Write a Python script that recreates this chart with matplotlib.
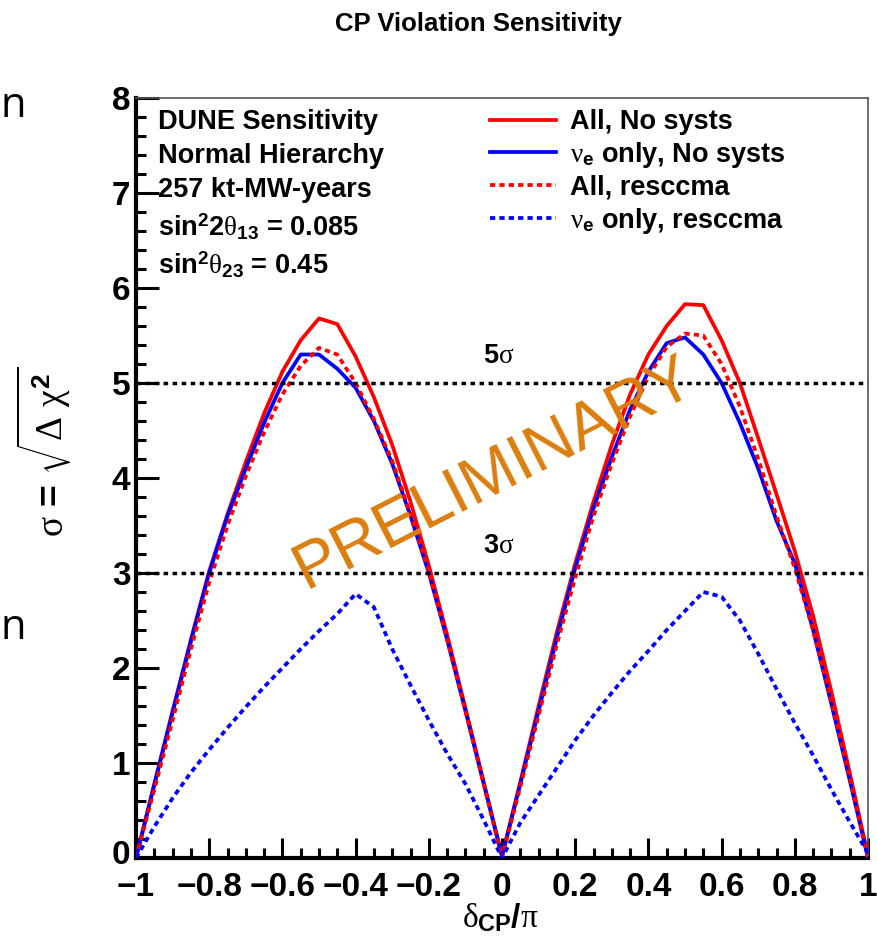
import matplotlib
matplotlib.use("Agg")
import matplotlib.pyplot as plt
from matplotlib.lines import Line2D
from matplotlib.ticker import MultipleLocator
from matplotlib.transforms import ScaledTranslation

# ---------------- data ----------------
delta_cp = [-1.00, -0.95, -0.90, -0.85, -0.80, -0.75, -0.70, -0.65, -0.60, -0.55,
            -0.50, -0.45, -0.40, -0.35, -0.30, -0.25, -0.20, -0.15, -0.10, -0.05,
            0.00, 0.05, 0.10, 0.15, 0.20, 0.25, 0.30, 0.35, 0.40, 0.45,
            0.50, 0.55, 0.60, 0.65, 0.70, 0.75, 0.80, 0.85, 0.90, 0.95, 1.00]

all_nosyst = [0.00, 0.78, 1.55, 2.30, 3.02, 3.62, 4.17, 4.68, 5.12, 5.45,
              5.68, 5.62, 5.28, 4.85, 4.35, 3.75, 3.08, 2.35, 1.58, 0.80,
              0.02, 0.80, 1.60, 2.38, 3.10, 3.75, 4.35, 4.88, 5.30, 5.60,
              5.83, 5.82, 5.45, 5.00, 4.42, 3.83, 3.23, 2.55, 1.75, 0.90, 0.02]

nue_nosyst = [0.00, 0.77, 1.53, 2.28, 3.00, 3.60, 4.10, 4.58, 5.00, 5.30,
              5.30, 5.15, 4.95, 4.60, 4.15, 3.60, 3.00, 2.30, 1.55, 0.78,
              0.02, 0.78, 1.55, 2.32, 3.05, 3.68, 4.22, 4.72, 5.12, 5.42,
              5.48, 5.30, 5.00, 4.58, 4.10, 3.55, 3.10, 2.40, 1.62, 0.82, 0.00]

all_resccma = [0.00, 0.72, 1.45, 2.20, 2.90, 3.50, 4.02, 4.48, 4.88, 5.18,
               5.37, 5.30, 5.00, 4.62, 4.18, 3.62, 3.02, 2.30, 1.55, 0.78,
               0.00, 0.75, 1.50, 2.25, 2.95, 3.60, 4.15, 4.65, 5.07, 5.38,
               5.52, 5.50, 5.20, 4.75, 4.20, 3.60, 3.05, 2.40, 1.65, 0.85, 0.00]

nue_resccma = [0.00, 0.33, 0.63, 0.90, 1.14, 1.37, 1.59, 1.80, 2.00, 2.20,
               2.39, 2.57, 2.78, 2.64, 2.20, 1.82, 1.45, 1.10, 0.78, 0.40,
               0.00, 0.37, 0.66, 0.95, 1.24, 1.50, 1.74, 1.97, 2.18, 2.40,
               2.60, 2.80, 2.75, 2.50, 2.15, 1.78, 1.42, 1.08, 0.72, 0.38, 0.05]

series_labels = ["All, No systs",
                 r"$\nu_{\mathrm{e}}$ only, No systs",
                 "All, resccma",
                 r"$\nu_{\mathrm{e}}$ only, resccma"]

sigma_levels = [5, 3]
sigma_labels = [r"$5\sigma$", r"$3\sigma$"]

info_lines = ["DUNE Sensitivity",
              "Normal Hierarchy",
              "257 kt-MW-years",
              r"$\mathrm{sin}^{2}2\theta_{13}$ = 0.085",
              r"$\mathrm{sin}^{2}\theta_{23}$ = 0.45"]

x_ticks = [-1, -0.8, -0.6, -0.4, -0.2, 0, 0.2, 0.4, 0.6, 0.8, 1]
y_ticks = [0, 1, 2, 3, 4, 5, 6, 7, 8]

# ---------------- style ----------------
plt.rcParams["font.family"] = ["Liberation Sans", "DejaVu Sans"]
plt.rcParams["mathtext.fontset"] = "custom"
plt.rcParams["mathtext.rm"] = "Liberation Sans:bold"
plt.rcParams["mathtext.bf"] = "Liberation Sans:bold"
plt.rcParams["mathtext.sf"] = "Liberation Sans:bold"
plt.rcParams["mathtext.it"] = "Liberation Serif"
plt.rcParams["mathtext.cal"] = "Liberation Serif"

W, H = 878, 938
fig = plt.figure(figsize=(W / 100, H / 100), dpi=100)


def fx(px):
    return px / W


def fy(py):
    return 1 - py / H


L, R, B, T = 136, 868, 858, 98
ax = fig.add_axes([fx(L), fy(B), fx(R) - fx(L), fy(T) - fy(B)])
ax.set_xlim(-1, 1)
ax.set_ylim(0, 8)

dot = (0, (1.4, 1.1))
ax.plot(delta_cp, all_nosyst, color="#ff0000", lw=2.7, zorder=3)
ax.plot(delta_cp, nue_nosyst, color="#0000ff", lw=2.7, zorder=3)
ax.plot(delta_cp, all_resccma, color="#ff0000", lw=2.7, ls=dot, zorder=3)
ax.plot(delta_cp, nue_resccma, color="#0000ff", lw=2.7, ls=dot, zorder=3)

for lvl, lab in zip(sigma_levels, sigma_labels):
    ax.axhline(lvl, color="black", lw=2.5, ls=(0, (1.3, 1.3)), zorder=4)
    ax.text(-0.01, lvl + 0.28, lab, ha="center", va="center", fontsize=19.5,
            fontweight="bold", zorder=5)

ax.text(-0.02, 4.05, "PRELIMINARY", color="#db7d0d", fontsize=47,
        rotation=27, ha="center", va="center", zorder=6,
        fontfamily=["Liberation Sans", "DejaVu Sans"], fontweight="normal")

# spines / ticks
for s in ["left", "bottom"]:
    ax.spines[s].set_linewidth(3.0)
    ax.spines[s].set_color("black")
for s in ["top", "right"]:
    ax.spines[s].set_linewidth(1.2)
    ax.spines[s].set_color("#555555")

ax.set_xticks(x_ticks)
ax.set_yticks(y_ticks)
ax.set_xticklabels([f"{v:g}".replace("-", "\u2212") for v in x_ticks])
ax.set_yticklabels([f"{v:g}" for v in y_ticks])
ax.xaxis.set_minor_locator(MultipleLocator(0.05))
ax.yaxis.set_minor_locator(MultipleLocator(0.2))
ax.tick_params(axis="both", which="both", direction="in", top=False, right=False,
               width=2.2, color="black")
ax.tick_params(axis="x", which="major", length=14.5, pad=10, labelsize=24)
ax.tick_params(axis="x", which="minor", length=7)
ax.tick_params(axis="y", which="major", length=16.5, pad=4, labelsize=24)
ax.tick_params(axis="y", which="minor", length=7)
for lab in ax.get_xticklabels() + ax.get_yticklabels():
    lab.set_fontweight("bold")
# lift the "0" label on the y axis slightly so it clears the "-1" label below
ylab0 = ax.get_yticklabels()[0]
ylab0.set_transform(ylab0.get_transform()
                    + ScaledTranslation(0, 4 / 72, fig.dpi_scale_trans))

# info text block
info_y = [122, 156, 190, 227, 265]
for t, py in zip(info_lines, info_y):
    fig.text(fx(158), fy(py), t, ha="left", va="center", fontsize=19.5,
             fontweight="bold")

# legend
handles = [Line2D([], [], color="#ff0000", lw=2.7),
           Line2D([], [], color="#0000ff", lw=2.7),
           Line2D([], [], color="#ff0000", lw=2.7, ls=dot),
           Line2D([], [], color="#0000ff", lw=2.7, ls=dot)]
leg = ax.legend(handles, series_labels, loc="upper left",
                bbox_to_anchor=(fx(490), fy(109)), bbox_transform=fig.transFigure,
                frameon=False, handlelength=2.45, handletextpad=0.5,
                labelspacing=0.18, borderpad=0, borderaxespad=0,
                prop={"size": 19.5, "weight": "bold"})

# titles / axis labels
fig.text(fx(478), fy(24), "CP Violation Sensitivity", ha="center", va="center",
         fontsize=18.5, fontweight="bold")
fig.text(fx(500), fy(918), r"$\delta_{\mathrm{CP}}/\pi$", ha="center", va="center",
         fontsize=24)
fig.text(fx(44), fy(452), r"$\sigma$ = $\sqrt{\mathcal{\Delta}\ \chi^{2}}$",
         ha="center", va="center", rotation=90, fontsize=27, fontweight="bold")

# cropped page fragments at the left edge
fig.text(fx(0), fy(106), "n", ha="left", va="center", fontsize=30,
         fontfamily=["Open Sans", "DejaVu Sans"])
fig.text(fx(0), fy(628), "n", ha="left", va="center", fontsize=30,
         fontfamily=["Open Sans", "DejaVu Sans"])

fig.savefig("out.png", dpi=100)
